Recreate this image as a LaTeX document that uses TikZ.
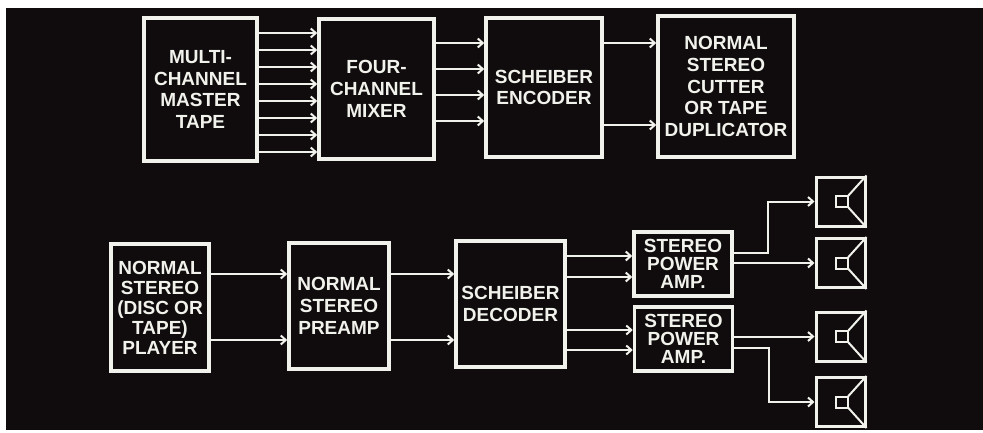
\documentclass[tikz,border=0pt]{standalone}
\usepackage{fontspec}
\setmainfont{Liberation Sans}
\usetikzlibrary{positioning,calc,arrows.meta}
\definecolor{board}{RGB}{16,12,14}
\definecolor{chalk}{RGB}{242,242,236}

\begin{document}
\begin{tikzpicture}[x=1pt, y=-1pt,
		blk/.style={shape=rectangle, draw=chalk, line width=3.5pt, text=chalk, align=center, inner sep=0pt,
			font=\bfseries\fontsize{19}{21.7}\selectfont},
		sig/.style={draw=chalk, line width=2pt, -{Straight Barb[length=5pt, width=9pt]}},
		spk/.style={shape=rectangle, draw=chalk, line width=3pt, minimum size=49pt}]
			\useasboundingbox (0,0) rectangle (983,432);
			\fill[white] (0,0) rectangle (983,432);
			\fill[board] (6,8) rectangle (983,430);
			% recording chain
			\node[name=tape, blk, minimum width=113pt, minimum height=143pt] at (200.5,89.5) {MULTI-\\CHANNEL\\MASTER\\TAPE};
			\node[name=mixer, blk, minimum width=115pt, minimum height=140pt] at (376.5,89) {FOUR-\\CHANNEL\\MIXER};
			\node[name=enc, blk, minimum width=116pt, minimum height=139pt] at (544,87.5) {SCHEIBER\\ENCODER};
			\node[name=cutter, blk, minimum width=136pt, minimum height=141pt] at (726,86.5) {NORMAL\\STEREO\\CUTTER\\OR TAPE\\DUPLICATOR};
			\foreach \y in {33,50,...,152} \draw[sig] (tape.east |- 0,\y) -- (mixer.west |- 0,\y);
			\foreach \y in {43,69,95,121} \draw[sig] (mixer.east |- 0,\y) -- (enc.west |- 0,\y);
			\foreach \y in {43,125} \draw[sig] (enc.east |- 0,\y) -- (cutter.west |- 0,\y);
			% playback chain
			\node[name=player, blk, minimum width=98pt, minimum height=127pt, font=\bfseries\fontsize{19}{20}\selectfont] at (160,307.5) {NORMAL\\STEREO\\(DISC OR\\TAPE)\\PLAYER};
			\node[name=preamp, blk, minimum width=100pt, minimum height=126pt] at (339,306) {NORMAL\\STEREO\\PREAMP};
			\node[name=dec, blk, minimum width=109pt, minimum height=126pt] at (510.5,304) {SCHEIBER\\DECODER};
			\node[name=amp1, blk, minimum width=98pt, minimum height=64pt, font=\bfseries\fontsize{19}{18}\selectfont] at (683,264) {STEREO\\POWER\\AMP.};
			\node[name=amp2, blk, minimum width=98pt, minimum height=64pt, font=\bfseries\fontsize{19}{18}\selectfont] at (683.5,339) {STEREO\\POWER\\AMP.};
			\foreach \y in {274,340} {
				\draw[sig] (player.east |- 0,\y) -- (preamp.west |- 0,\y);
				\draw[sig] (preamp.east |- 0,\y) -- (dec.west |- 0,\y);
			}
			\foreach \y in {256,277} \draw[sig] (dec.east |- 0,\y) -- (amp1.west |- 0,\y);
			\foreach \y in {330,350} \draw[sig] (dec.east |- 0,\y) -- (amp2.west |- 0,\y);
			% speakers
			\foreach \s/\y in {s1/201.5, s2/263, s3/336.5, s4/402} {
				\node[name=\s, spk] at (840.5,\y) {};
				\draw[chalk, line width=2pt] ([shift={(-4.5,-5.5)}]\s.center) rectangle ([shift={(7.5,5.5)}]\s.center);
				\draw[chalk, line width=2pt] ([shift={(7.5,-5.5)}]\s.center) -- (\s.north east);
				\draw[chalk, line width=2pt] ([shift={(7.5,5.5)}]\s.center) -- (\s.south east);
			}
			\draw[sig] (amp1.east |- 0,253) -- ++(34,0) |- (s1.west);
			\draw[sig] (amp1.east |- s2.west) -- (s2.west);
			\draw[sig] (amp2.east |- s3.west) -- (s3.west);
			\draw[sig] (amp2.east |- 0,348) -- ++(35,0) |- (s4.west);
		\end{tikzpicture}
\end{document}
